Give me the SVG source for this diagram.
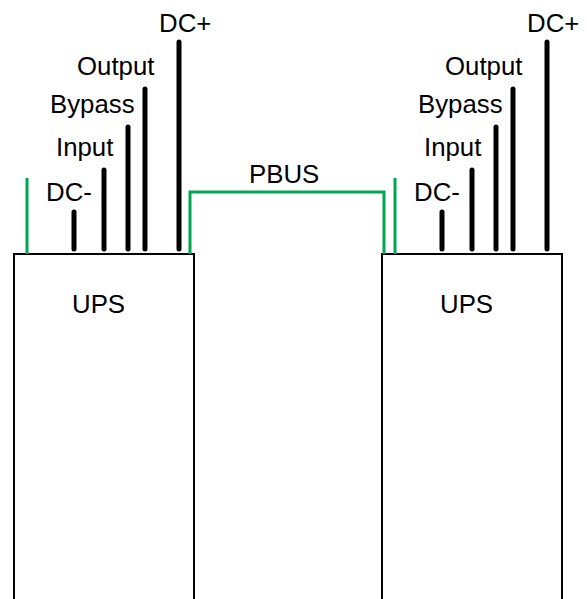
<svg xmlns="http://www.w3.org/2000/svg" width="587" height="599" viewBox="0 0 587 599">
<style>
.box{fill:#fff;stroke:#000;stroke-width:2}
.pin{stroke:#000;stroke-width:5;stroke-linecap:round;fill:none}
.g{stroke:#00a650;stroke-width:3;fill:none}
text{font-family:"Liberation Sans",Arial,sans-serif;font-size:25.8px;fill:#000}
</style>
<g id="ups1">
<rect class="box" x="14" y="254" width="180" height="360"/>
<text x="72" y="313">UPS</text>
</g>
<g id="ups2">
<rect class="box" x="382" y="254" width="180" height="360"/>
<text x="440" y="313">UPS</text>
</g>
<g id="connectors">
<line class="g" x1="27" y1="178" x2="27" y2="254"/>
<line class="g" x1="395" y1="178" x2="395" y2="254"/>
<path class="g" d="M190 254 V192 H384 V254"/>
<line class="pin" x1="74" y1="212" x2="74" y2="249"/>
<line class="pin" x1="104" y1="170" x2="104" y2="249"/>
<line class="pin" x1="128" y1="127" x2="128" y2="249"/>
<line class="pin" x1="145" y1="89" x2="145" y2="249"/>
<line class="pin" x1="179" y1="42" x2="179" y2="249"/>
<line class="pin" x1="442" y1="212" x2="442" y2="249"/>
<line class="pin" x1="472" y1="170" x2="472" y2="249"/>
<line class="pin" x1="496" y1="127" x2="496" y2="249"/>
<line class="pin" x1="513" y1="89" x2="513" y2="249"/>
<line class="pin" x1="547" y1="42" x2="547" y2="249"/>
</g>
<g id="labels">
<text x="159" y="32">DC+</text>
<text x="77" y="75">Output</text>
<text x="50" y="113">Bypass</text>
<text x="56" y="156">Input</text>
<text x="46" y="201">DC-</text>
<text x="527" y="32">DC+</text>
<text x="445" y="75">Output</text>
<text x="418" y="113">Bypass</text>
<text x="424" y="156">Input</text>
<text x="414" y="201">DC-</text>
<text x="249" y="183">PBUS</text>
</g>
</svg>
